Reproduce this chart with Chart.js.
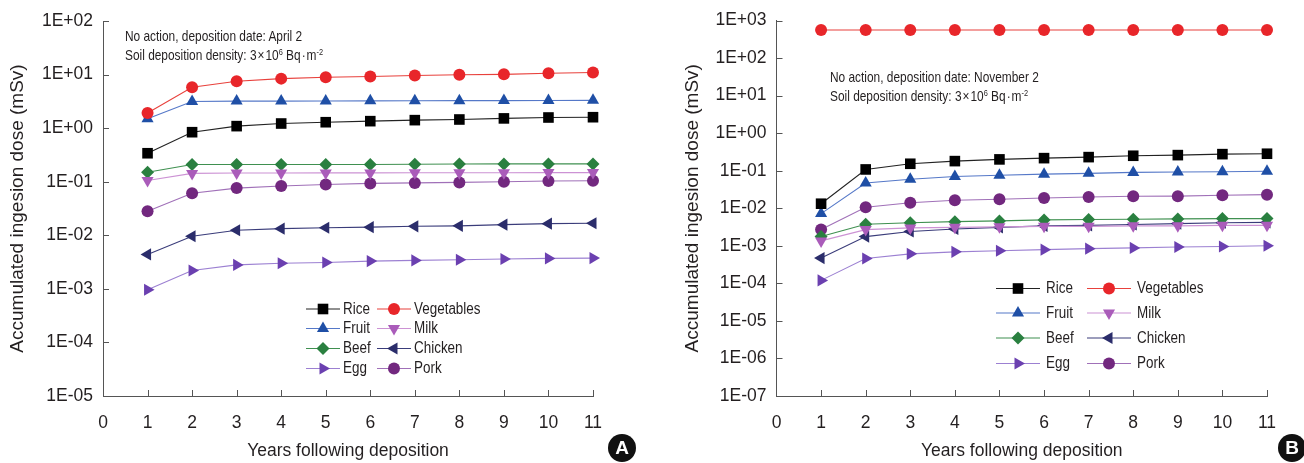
<!DOCTYPE html>
<html>
<head>
<meta charset="utf-8">
<script src="https://cdn.jsdelivr.net/npm/chart.js@4.4.1/dist/chart.umd.min.js"></script>
<style>
  body { margin: 0; width: 1304px; height: 463px; position: relative; overflow: hidden; background: #fff; }
  .panel { position: absolute; top: 0; width: 652px; height: 463px; }
  .note { position: absolute; font-family: "Liberation Sans", Arial, sans-serif;
          font-size: 14.5px; line-height: 19px; color: #231f20; white-space: nowrap;
          transform: scaleX(0.82); transform-origin: 0 0; }
  .note .sup { font-size: 9px; position: relative; top: -5px; }
  .badge { position: absolute; width: 28px; height: 28px; border-radius: 50%; background: #111; color: #fff;
           font: bold 19px "Liberation Sans", Arial, sans-serif; text-align: center; line-height: 28px; }
</style>
</head>
<body>
<div class="panel" style="left:0">
  <canvas id="chartA" width="652" height="463"></canvas>
  <div class="note" style="left:125px;top:27px">No action, deposition date: April 2<br>Soil deposition density: 3&#8202;×&#8202;10<span class="sup">6</span> Bq&#8202;·&#8202;m<span class="sup">-2</span></div>
  <div class="badge" style="left:608px;top:434px">A</div>
</div>
<div class="panel" style="left:652px">
  <canvas id="chartB" width="652" height="463"></canvas>
  <div class="note" style="left:178px;top:68px">No action, deposition date: November 2<br>Soil deposition density: 3&#8202;×&#8202;10<span class="sup">6</span> Bq&#8202;·&#8202;m<span class="sup">-2</span></div>
  <div class="badge" style="left:626px;top:434px">B</div>
</div>
<script>
// years on the x axis
const years = [1, 2, 3, 4, 5, 6, 7, 8, 9, 10, 11];
const xTicks = [0, 1, 2, 3, 4, 5, 6, 7, 8, 9, 10, 11];

const seriesNames = ['Rice', 'Vegetables', 'Fruit', 'Milk', 'Beef', 'Chicken', 'Egg', 'Pork'];

// panel A - deposition April 2 (mSv)
const riceA    = [0.34, 0.84, 1.09, 1.22, 1.29, 1.35, 1.41, 1.45, 1.52, 1.58, 1.6];
const vegA     = [1.92, 5.8, 7.5, 8.4, 8.9, 9.2, 9.6, 9.9, 10.1, 10.6, 10.9];
const fruitA   = [1.5, 3.15, 3.2, 3.2, 3.22, 3.23, 3.25, 3.26, 3.27, 3.28, 3.3];
const milkA    = [0.105, 0.143, 0.145, 0.145, 0.146, 0.146, 0.147, 0.147, 0.147, 0.148, 0.148];
const beefA    = [0.15, 0.21, 0.21, 0.21, 0.21, 0.21, 0.212, 0.214, 0.215, 0.215, 0.215];
const chickenA = [0.0044, 0.0096, 0.0124, 0.0133, 0.0138, 0.0142, 0.0147, 0.015, 0.0158, 0.0165, 0.0168];
const eggA     = [0.00096, 0.0022, 0.0028, 0.003, 0.0031, 0.0033, 0.0034, 0.0035, 0.0036, 0.0037, 0.00375];
const porkA    = [0.028, 0.061, 0.076, 0.083, 0.089, 0.093, 0.095, 0.097, 0.1, 0.103, 0.104];
const yLabelsA = ['1E-05', '1E-04', '1E-03', '1E-02', '1E-01', '1E+00', '1E+01', '1E+02'];

// panel B - deposition November 2 (mSv)
const riceB    = [0.0132, 0.108, 0.153, 0.18, 0.2, 0.216, 0.23, 0.25, 0.26, 0.276, 0.283];
const vegB     = [560, 560, 560, 560, 560, 560, 560, 560, 560, 560, 560];
const fruitB   = [0.0072, 0.047, 0.059, 0.07, 0.076, 0.081, 0.085, 0.09, 0.092, 0.094, 0.097];
const milkB    = [0.00135, 0.0027, 0.003, 0.0031, 0.0032, 0.0033, 0.0033, 0.0034, 0.0034, 0.0035, 0.0035];
const beefB    = [0.00176, 0.00375, 0.0041, 0.0044, 0.0046, 0.0049, 0.005, 0.0051, 0.0052, 0.0053, 0.0053];
const chickenB = [0.00047, 0.00176, 0.0024, 0.0028, 0.0031, 0.0034, 0.0035, 0.0037, 0.0039, 0.0041, 0.0042];
const eggB     = [0.00012, 0.00046, 0.00061, 0.00069, 0.00074, 0.00079, 0.00084, 0.00088, 0.00093, 0.00096, 0.001];
const porkB    = [0.0027, 0.0106, 0.014, 0.0163, 0.0174, 0.0188, 0.02, 0.0208, 0.021, 0.0222, 0.023];
const yLabelsB = ['1E-07', '1E-06', '1E-05', '1E-04', '1E-03', '1E-02', '1E-01', '1E+00', '1E+01', '1E+02', '1E+03'];

const FONT = '"Liberation Sans", Arial, sans-serif';
const TEXT = '#231f20';
const AXIS = '#555';

// line colour, marker colour, marker shape, rotation, radius
const looks = {
  Rice:       { line: '#222222', mark: '#000000', style: 'rect',     rot: 0,   r: 7.5 },
  Vegetables: { line: '#e8413c', mark: '#e8262a', style: 'circle',   rot: 0,   r: 6 },
  Fruit:      { line: '#5578c8', mark: '#1f4fa6', style: 'triangle', rot: 0,   r: 7 },
  Milk:       { line: '#cc92d4', mark: '#aa5cba', style: 'triangle', rot: 180, r: 7 },
  Beef:       { line: '#3f9050', mark: '#2a8040', style: 'rectRot',  rot: 0,   r: 6.5 },
  Chicken:    { line: '#3a3c7a', mark: '#2b2d6b', style: 'triangle', rot: -90, r: 7 },
  Egg:        { line: '#9c80d2', mark: '#6b40b0', style: 'triangle', rot: 90,  r: 7 },
  Pork:       { line: '#a070b8', mark: '#72287f', style: 'circle',   rot: 0,   r: 6 }
};

Chart.defaults.font.family = FONT;
Chart.defaults.color = TEXT;

function makeSets(list) {
  return list.map((vals, i) => {
    const name = seriesNames[i];
    const lk = looks[name];
    return {
      label: name,
      data: years.map((x, j) => ({ x: x, y: vals[j] })),
      borderColor: lk.line,
      borderWidth: 1.1,
      pointStyle: lk.style,
      rotation: lk.rot,
      pointRadius: lk.r,
      pointHoverRadius: lk.r,
      pointBackgroundColor: lk.mark,
      pointBorderColor: lk.mark,
      pointBorderWidth: 0,
      clip: false,
      tension: 0
    };
  });
}

// tick marks that point into the plot
const innerTicks = {
  id: 'innerTicks',
  afterDraw(chart) {
    const { ctx, chartArea, scales } = chart;
    ctx.save();
    ctx.strokeStyle = AXIS;
    ctx.lineWidth = 1;
    ctx.beginPath();
    scales.y.ticks.forEach(t => {
      const py = Math.round(scales.y.getPixelForValue(t.value)) + 0.5;
      ctx.moveTo(chartArea.left, py);
      ctx.lineTo(chartArea.left + 6, py);
    });
    scales.x.ticks.forEach(t => {
      if (t.value === 0) return;
      const px = Math.round(scales.x.getPixelForValue(t.value)) + 0.5;
      ctx.moveTo(px, chartArea.bottom);
      ctx.lineTo(px, chartArea.bottom - 6);
    });
    ctx.stroke();
    ctx.restore();
  }
};

// two-column legend box, text squeezed to look like the narrow face
const gridLegend = {
  id: 'gridLegend',
  afterDraw(chart, args, opts) {
    const { ctx } = chart;
    ctx.save();
    ctx.font = '16px ' + FONT;
    ctx.textBaseline = 'middle';
    chart.data.datasets.forEach((ds, i) => {
      const col = i % 2, row = Math.floor(i / 2);
      const x0 = opts.cols[col], y0 = opts.rows[row];
      ctx.strokeStyle = ds.borderColor;
      ctx.lineWidth = 1.1;
      ctx.beginPath();
      ctx.moveTo(x0, y0);
      ctx.lineTo(x0 + opts.len, y0);
      ctx.stroke();
      ctx.fillStyle = ds.pointBackgroundColor;
      Chart.helpers.drawPoint(ctx, {
        pointStyle: ds.pointStyle, rotation: ds.rotation, radius: ds.pointRadius, borderWidth: 0
      }, x0 + opts.len / 2, y0);
      ctx.fillStyle = TEXT;
      ctx.save();
      ctx.translate(x0 + opts.len + opts.gap, y0 + 0.5);
      ctx.scale(0.84, 1);
      ctx.fillText(ds.label, 0, 0);
      ctx.restore();
    });
    ctx.restore();
  }
};

function makeChart(id, sets, yLabels, box) {
  const yVals = yLabels.map(Number);
  return new Chart(document.getElementById(id), {
    type: 'line',
    data: { datasets: makeSets(sets) },
    options: {
      responsive: false,
      animation: false,
      events: [],
      layout: { padding: { left: 0, right: box.padRight, top: box.top, bottom: 0 } },
      plugins: {
        legend: { display: false },
        tooltip: { enabled: false },
        gridLegend: box.legend
      },
      scales: {
        x: {
          type: 'linear',
          min: xTicks[0],
          max: xTicks[xTicks.length - 1],
          afterBuildTicks: s => { s.ticks = xTicks.map(v => ({ value: v })); },
          afterFit: s => { s.height = 463 - box.bottom; },
          grid: { display: false, drawTicks: false },
          border: { display: true, color: AXIS, width: 1 },
          ticks: { padding: 17, font: { size: 17.5 }, color: TEXT, autoSkip: false, maxRotation: 0 },
          title: { display: true, text: 'Years following deposition', font: { size: 17.5 }, color: TEXT,
                   padding: { top: 0, bottom: 1 } }
        },
        y: {
          type: 'logarithmic',
          min: yVals[0],
          max: yVals[yVals.length - 1],
          afterBuildTicks: s => { s.ticks = yVals.map(v => ({ value: v })); },
          afterFit: s => { s.width = box.left; },
          grid: { display: false, drawTicks: false },
          border: { display: true, color: AXIS, width: 1 },
          ticks: {
            padding: 10, font: { size: 17.5 }, color: TEXT, autoSkip: false,
            callback: v => yLabels[yVals.indexOf(v)]
          },
          title: { display: true, text: 'Accumulated ingesion dose (mSv)', font: { size: 19 }, color: TEXT,
                   padding: { top: box.titleX - 11.4, bottom: 0 } }
        }
      }
    },
    plugins: [innerTicks, gridLegend]
  });
}

makeChart('chartA', [riceA, vegA, fruitA, milkA, beefA, chickenA, eggA, porkA], yLabelsA, {
  left: 103, padRight: 59, top: 21, bottom: 396, titleX: 18,
  legend: { cols: [306, 377], rows: [309, 328.5, 348.5, 368.5], len: 34, gap: 3 }
});

makeChart('chartB', [riceB, vegB, fruitB, milkB, beefB, chickenB, eggB, porkB], yLabelsB, {
  left: 124.5, padRight: 37, top: 20, bottom: 396, titleX: 41,
  legend: { cols: [344, 435], rows: [288.5, 313, 338, 363.5], len: 44, gap: 6 }
});
</script>
</body>
</html>
